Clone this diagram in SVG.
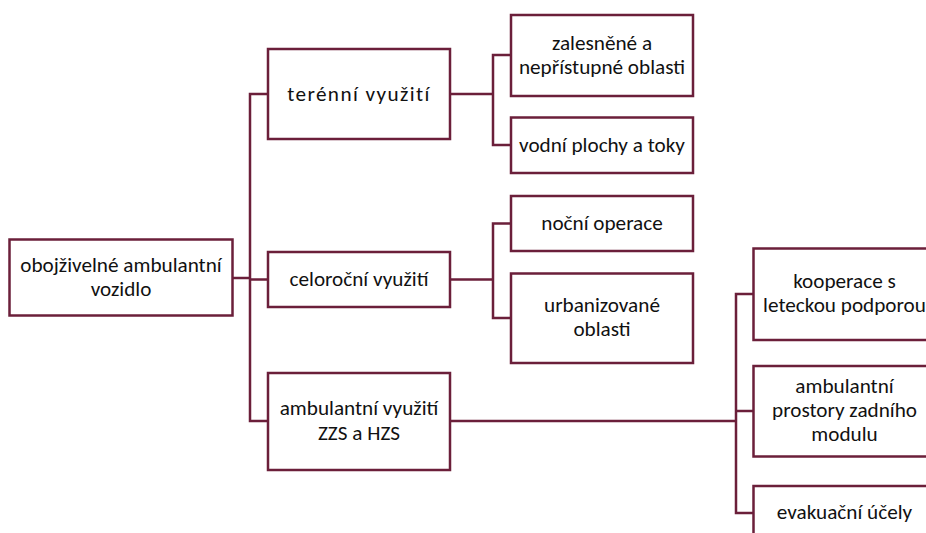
<svg xmlns="http://www.w3.org/2000/svg" width="926" height="533" viewBox="0 0 926 533">
<style>
  .box { fill: #ffffff; stroke: #6B1F3A; stroke-width: 2.5; }
  .conn { fill: none; stroke: #6B1F3A; stroke-width: 2.5; }
  text { font-family: Carlito, Lato, "Liberation Sans", sans-serif; font-size: 21.2px; fill: #111111; text-anchor: middle; }
  .sp { letter-spacing: 1.4px; }
</style>
<rect width="926" height="533" fill="#ffffff"/>
<g id="connectors">
  <polyline class="conn" points="232,278 250,278"/>
  <polyline class="conn" points="268,94 250,94 250,421 268,421"/>
  <polyline class="conn" points="250,279.5 268,279.5"/>
  <polyline class="conn" points="450,94 493,94"/>
  <polyline class="conn" points="511,55 493,55 493,145 511,145"/>
  <polyline class="conn" points="450,279.5 493,279.5"/>
  <polyline class="conn" points="511,223.5 493,223.5 493,318 511,318"/>
  <polyline class="conn" points="450,421 736,421"/>
  <polyline class="conn" points="753,294 736,294 736,513 753,513"/>
  <polyline class="conn" points="736,411 753,411"/>
</g>
<g id="root">
  <rect class="box" x="9.5" y="239.5" width="223" height="76"/>
  <text x="121" y="272">obojživelné ambulantní</text>
  <text x="121" y="296">vozidlo</text>
</g>
<g id="terenni">
  <rect class="box" x="268" y="49" width="182" height="90"/>
  <text class="sp" x="359" y="100.5">terénní využití</text>
</g>
<g id="celorocni">
  <rect class="box" x="268" y="252" width="182" height="55"/>
  <text x="359" y="285.5">celoroční využití</text>
</g>
<g id="ambulantni">
  <rect class="box" x="268" y="373" width="182" height="97"/>
  <text x="359" y="415">ambulantní využití</text>
  <text x="359" y="439.5">ZZS a HZS</text>
</g>
<g id="zalesnene">
  <rect class="box" x="511" y="15" width="182" height="81"/>
  <text x="602" y="49.5">zalesněné a</text>
  <text x="602" y="73.5">nepřístupné oblasti</text>
</g>
<g id="vodni">
  <rect class="box" x="511" y="117.5" width="182" height="55.5"/>
  <text x="602" y="151.5">vodní plochy a toky</text>
</g>
<g id="nocni">
  <rect class="box" x="511" y="196" width="182" height="55"/>
  <text x="602" y="229.5">noční operace</text>
</g>
<g id="urbanizovane">
  <rect class="box" x="511" y="273.5" width="182" height="89.5"/>
  <text x="602" y="312">urbanizované</text>
  <text x="602" y="336">oblasti</text>
</g>
<g id="kooperace">
  <rect class="box" x="753.5" y="248.5" width="182" height="91.5"/>
  <text x="844.5" y="288">kooperace s</text>
  <text x="844.5" y="312">leteckou podporou</text>
</g>
<g id="prostory">
  <rect class="box" x="753.5" y="366" width="182" height="90.5"/>
  <text x="844.5" y="393">ambulantní</text>
  <text x="844.5" y="417">prostory zadního</text>
  <text x="844.5" y="441">modulu</text>
</g>
<g id="evakuace">
  <rect class="box" x="753.5" y="486" width="182" height="56"/>
  <text x="844.5" y="518.5">evakuační účely</text>
</g>
</svg>
